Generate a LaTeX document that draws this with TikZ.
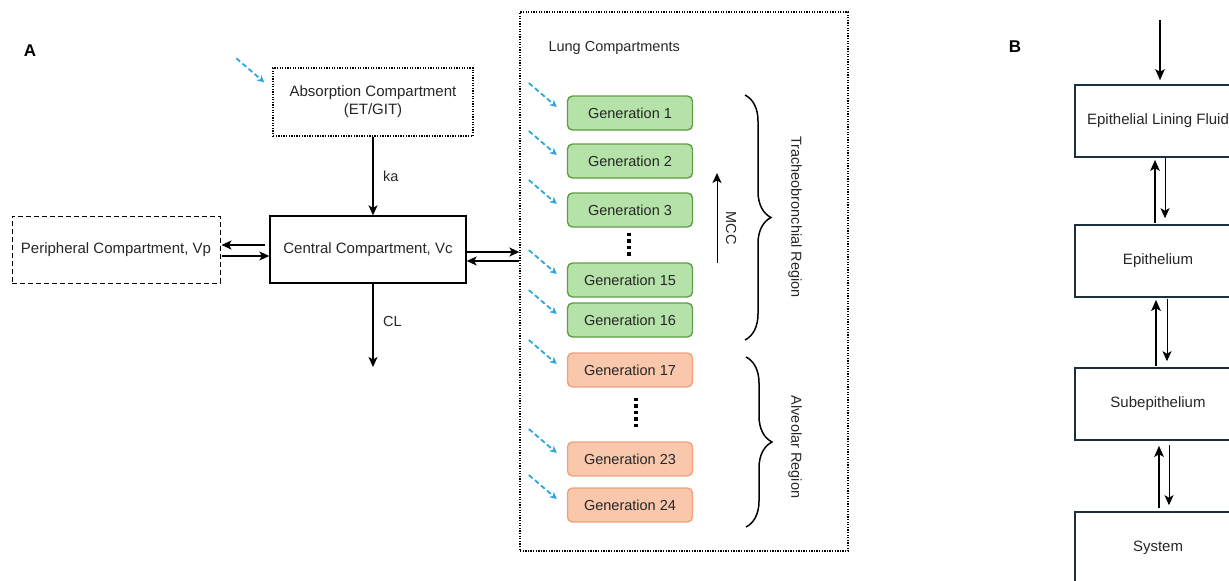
\documentclass[tikz,border=0pt]{standalone}
\usepackage{fontspec}
\setmainfont{Liberation Sans}
\usetikzlibrary{arrows.meta,calc,decorations.pathreplacing}

\definecolor{genfill}{HTML}{B4E2A8}
\definecolor{gendraw}{HTML}{5E9E45}
\definecolor{alvfill}{HTML}{F8C7AC}
\definecolor{alvdraw}{HTML}{EFA27C}
\definecolor{dose}{HTML}{2AA7E1}
\definecolor{tissue}{HTML}{1E2F42}

\tikzset{
  txt/.style={font=\fontsize{14.5}{18}\selectfont, text=black!85},
  boxtxt/.style={font=\fontsize{15}{18}\selectfont, text=black!85},
  box/.style={boxtxt, draw=black, line width=1.3pt, align=center, inner sep=0pt},
  dotbox/.style={box, dash pattern=on 1.3pt off 1.3pt},
  dashbox/.style={box, dash pattern=on 5pt off 3pt, line width=1pt},
  solidbox/.style={box},
  gen/.style={txt, rounded corners=5pt, line width=1.4pt, minimum width=125pt,
              minimum height=34pt, inner sep=0pt},
  tb/.style={gen, draw=gendraw, fill=genfill},
  alv/.style={gen, draw=alvdraw, fill=alvfill},
  arr/.style={line width=1.4pt, -{Stealth[length=10pt,width=9pt,inset=2.5pt]}},
  thinarr/.style={line width=1pt, -{Stealth[length=10pt,width=9pt,inset=2.5pt]}},
  thickarr/.style={line width=1.8pt, -{Stealth[length=11pt,width=9.5pt,inset=2.5pt]}},
  dosearr/.style={draw=dose, line width=1.8pt, dash pattern=on 5pt off 3pt,
                  -{Stealth[length=7pt,width=7pt,inset=2pt]}},
  vdots/.style={line width=3.5pt, dash pattern=on 3.5pt off 3pt},
  brace/.style={decorate, decoration={brace, amplitude=26pt}, line width=1.5pt},
  tissuebox/.style={boxtxt, draw=tissue, line width=1.6pt, minimum width=166pt,
                    minimum height=72pt, inner sep=0pt},
  panel/.style={font=\fontsize{17}{20}\selectfont\bfseries}
}

\begin{document}
\begin{tikzpicture}[x=1pt, y=-1pt]
\useasboundingbox (0,0) rectangle (1229,581);
\clip (0,0) rectangle (1229,581);

% ---------------- Panel A ----------------
\node[panel] (labA) at (30,51) {A};

% systemic compartments
\node[dotbox, minimum width=200pt, minimum height=68pt] (abs) at (373,102)
  {Absorption Compartment\\(ET/GIT)};
\node[solidbox, minimum width=196pt, minimum height=67pt] (central) at (368,249.5)
  {Central Compartment, Vc};
\node[dashbox, minimum width=208pt, minimum height=67pt] (peri) at (116,249.5)
  {Peripheral Compartment, Vp};

% lung container
\node[dotbox, minimum width=328pt, minimum height=539pt] (lung) at (684,281.5) {};
\node[txt, anchor=west] (lunglab) at (545,48) {Lung Compartments};

% absorption and elimination
\draw[arr] (abs.south) -- (abs.south |- central.north) node[midway, right=6pt, txt] (ka) {ka};
\coordinate (clend) at (373,367);
\draw[arr] (central.south -| clend) -- (clend) node[pos=0.45, right=6pt, txt] (cl) {CL};

% central <-> peripheral
\draw[arr] ([yshift=4.5pt,xshift=-4pt]central.west) -- ([yshift=4.5pt,xshift=1pt]peri.east);
\draw[arr] ([yshift=-6.5pt,xshift=1pt]peri.east) -- ([yshift=-6.5pt]central.west);

% central <-> lung
\draw[arr] ([yshift=-2.5pt]central.east) -- ([yshift=-2.5pt]central.east -| lung.west);
\draw[arr] ([yshift=-11.5pt]central.east -| lung.west) -- ([yshift=-11.5pt]central.east);

% tracheobronchial generations
\node[tb] (g1)  at (630,113) {Generation 1};
\node[tb] (g2)  at (630,161) {Generation 2};
\node[tb] (g3)  at (630,210) {Generation 3};
\node[tb] (g15) at (630,280) {Generation 15};
\node[tb] (g16) at (630,320) {Generation 16};

% alveolar generations
\node[alv] (g17) at (630,370) {Generation 17};
\node[alv] (g23) at (630,459) {Generation 23};
\node[alv] (g24) at (630,505) {Generation 24};

% ellipsis dots
\draw[vdots] ($(g3.south)+(-1,5)$) -- ($(g15.north)+(-1,-5)$);
\draw[vdots] ($(g17.south)+(6,10)$) -- ($(g23.north)+(6,-12)$);

% deposited dose inputs
\draw[dosearr] ($(abs.north west)+(-36,-9)$) -- ($(abs.north west)+(-8,15)$);
\foreach \g in {g1,g2,g3,g15,g16,g17,g23,g24}{
  \draw[dosearr] ($(\g.west)+(-38,-30)$) -- ($(\g.west)+(-10,-6)$);
}

% mucociliary clearance
\coordinate (mccfrom) at (717,263);
\coordinate (mccto) at (717,173);
\draw[thinarr] (mccfrom) -- (mccto);
\node[txt, rotate=-90] (mcc) at (731,228) {MCC};

% regions
\coordinate (tbtop) at (745,95);
\coordinate (tbbot) at (745,340);
\draw[brace] (tbtop) -- (tbbot);
\node[txt, rotate=-90] (tblab) at (795,217) {Tracheobronchial Region};

\coordinate (alvtop) at (746,357);
\coordinate (alvbot) at (746,527);
\draw[brace] (alvtop) -- (alvbot);
\node[txt, rotate=-90] (alvlab) at (795,447) {Alveolar Region};

% ---------------- Panel B ----------------
\node[panel] (labB) at (1015,47) {B};

\node[tissuebox] (elf) at (1158,121) {Epithelial Lining Fluid};
\node[tissuebox] (epi) at (1158,261) {Epithelium};
\node[tissuebox] (sub) at (1158,404) {Subepithelium};
\node[tissuebox] (sys) at (1158,548) {System};

\coordinate (inflow) at (1160,20);
\draw[thickarr, line width=1.3pt] (inflow) -- ([yshift=4pt]inflow |- elf.north);

\draw[thickarr] ([xshift=-3pt,yshift=1pt]epi.north) -- ([xshift=-3pt,yshift=-2pt]elf.south);
\draw[thinarr] ([xshift=7pt]elf.south) -- ([xshift=7pt,yshift=6pt]epi.north);

\draw[thickarr] ([xshift=-2pt,yshift=1pt]sub.north) -- ([xshift=-2pt,yshift=-2pt]epi.south);
\draw[thinarr] ([xshift=9pt,yshift=-1pt]epi.south) -- ([xshift=9pt,yshift=6pt]sub.north);

\draw[thickarr] ([xshift=1pt,yshift=3pt]sys.north) -- ([xshift=1pt,yshift=-5pt]sub.south);
\draw[thinarr] ([xshift=11pt,yshift=-4pt]sub.south) -- ([xshift=11pt,yshift=6pt]sys.north);

\end{tikzpicture}
\end{document}
